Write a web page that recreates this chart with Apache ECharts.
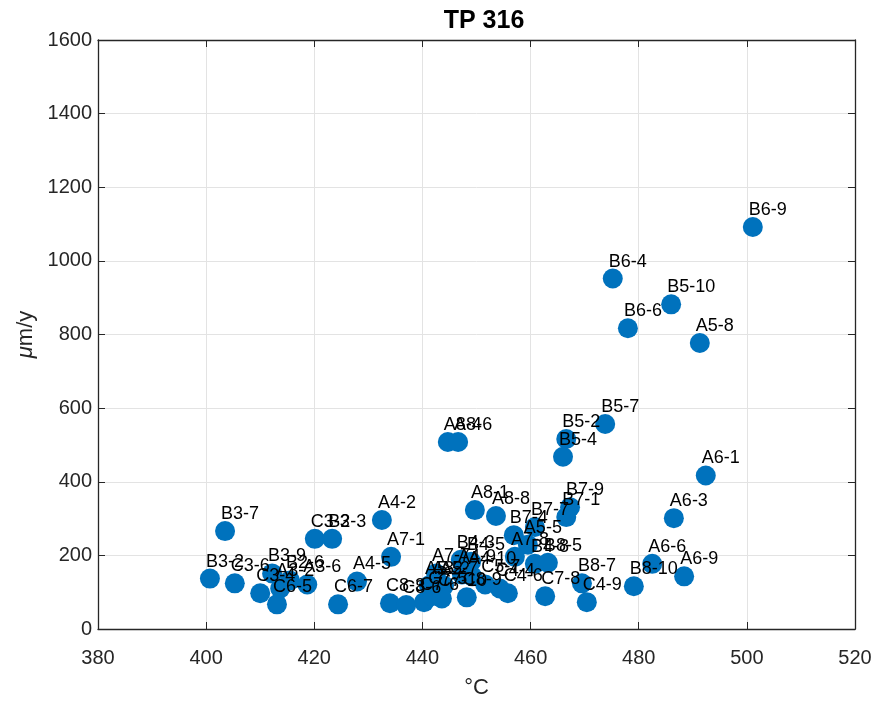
<!DOCTYPE html>
<html>
    <head>
        <meta charset="utf-8">
        <script src="https://cdn.jsdelivr.net/npm/echarts@6/dist/echarts.min.js"></script>
        <style>
            body, #main {
                margin: 0;
                width: 877px;
                height: 704px;
                background: #fff;
            }
        </style>
    </head>
    <body>
        <div id="main"></div>
        <script>
            // sample ids, temperature (°C) and rate (µm/y)
            const sampleNames = [
                'B3-2', 'C3-6', 'C3-4', 'B3-9', 'A3-2', 'B2-6', 'C6-5', 'A3-6',
                'B3-7', 'C3-3', 'B2-3', 'A4-2', 'A7-1', 'A4-5', 'C6-7',
                'C8-3', 'C8-6', 'C7-6', 'A5-2', 'A8-2', 'A7-7', 'A5-7', 'C7-5', 'C7-10',
                'C8-9', 'B4-3', 'B4-5', 'A4-9', 'A4-10', 'C5-7', 'C4-4', 'C4-6',
                'C7-8', 'B8-7', 'C4-9', 'A8-1', 'A8-8', 'B7-4', 'B7-7', 'A5-5',
                'A7-8', 'B4-8', 'B8-5', 'B7-9', 'B7-1', 'A8-4', 'A8-6', 'B5-2',
                'B5-4', 'B5-7', 'A6-1', 'A6-3', 'A6-6', 'A6-9', 'B8-10',
                'B6-9', 'B6-4', 'B5-10', 'B6-6', 'A5-8'
            ];
            const tempC = [
                400.7, 405.3, 410.0, 412.2, 413.7, 415.5, 413.1, 418.7,
                403.5, 420.1, 423.3, 432.5, 434.2, 427.9, 424.4,
                434.0, 437.0, 440.3, 441.2, 442.5, 442.5, 444.0, 441.8, 443.6,
                448.2, 447.1, 449.0, 447.3, 449.2, 451.6, 454.3, 455.8,
                462.7, 469.5, 470.4, 449.7, 453.6, 456.9, 460.8, 459.5,
                457.1, 460.8, 463.2, 467.3, 466.6, 444.7, 446.6, 466.6,
                466.0, 473.8, 492.4, 486.5, 482.5, 488.4, 479.1,
                501.1, 475.2, 486.0, 478.0, 491.3
            ];
            const rate = [
                137, 124, 97, 151, 110, 132, 67, 121,
                266, 245, 245, 296, 196, 129, 67,
                70, 65, 73, 118, 118, 151, 118, 89, 83,
                86, 188, 183, 148, 143, 121, 110, 97,
                89, 124, 73, 323, 307, 255, 277, 229,
                196, 177, 180, 331, 304, 508, 508, 516,
                468, 557, 417, 301, 177, 143, 116,
                1092, 952, 882, 817, 777
            ];

            const axisColor = '#262626';
            const font = 'Liberation Sans, Arial, sans-serif';

            const points = sampleNames.map((n, i) => ({ name: n, value: [tempC[i], rate[i]] }));

            const chart = echarts.init(document.getElementById('main'), null, { renderer: 'canvas' });

            const xBase = {
                min: 380, max: 520, interval: 20,
                axisLine: { onZero: false, lineStyle: { color: axisColor, width: 1.3 } },
                axisTick: { inside: true, length: 7, lineStyle: { color: axisColor } }
            };
            const yBase = {
                min: 0, max: 1600, interval: 200,
                axisLine: { show: true, onZero: false, lineStyle: { color: axisColor, width: 1.3 } },
                axisTick: { show: true, inside: true, length: 7, lineStyle: { color: axisColor } }
            };

            chart.setOption({
                animation: false,
                backgroundColor: '#fff',
                title: {
                    text: 'TP 316',
                    left: 479, top: 4, textAlign: 'center',
                    textStyle: { fontFamily: font, fontSize: 25, fontWeight: 'bold', color: '#000' }
                },
                grid: { left: 98, right: 22, top: 40, bottom: 66, containLabel: false },
                xAxis: [
                    Object.assign({}, xBase, {
                        type: 'value', position: 'bottom',
                        name: '°C', nameLocation: 'middle', nameGap: 48,
                        nameTextStyle: { fontFamily: font, fontSize: 22, color: axisColor },
                        axisLabel: { fontFamily: font, fontSize: 20, color: axisColor, margin: 19 },
                        splitLine: { show: true, lineStyle: { color: '#e3e3e3' } }
                    }),
                    Object.assign({}, xBase, {
                        type: 'value', position: 'top',
                        axisLabel: { show: false }, splitLine: { show: false }
                    })
                ],
                yAxis: [
                    Object.assign({}, yBase, {
                        type: 'value', position: 'left',
                        name: '{i|μ}m/y', nameLocation: 'middle', nameGap: 45,
                        nameTextStyle: {
                            fontFamily: font, fontSize: 22, color: axisColor,
                            rich: { i: { fontFamily: font, fontSize: 22, fontStyle: 'italic', color: axisColor } }
                        },
                        axisLabel: {
                            fontFamily: font, fontSize: 20, color: axisColor, margin: 6,
                            formatter: v => String(v)
                        },
                        splitLine: { show: true, lineStyle: { color: '#e3e3e3' } }
                    }),
                    Object.assign({}, yBase, {
                        type: 'value', position: 'right',
                        axisLabel: { show: false }, splitLine: { show: false }
                    })
                ],
                series: [{
                    type: 'scatter',
                    data: points,
                    symbolSize: 20,
                    itemStyle: { color: '#0072BD', opacity: 1 },
                    label: {
                        show: true,
                        formatter: '{b}',
                        position: [6, -7],
                        align: 'left',
                        verticalAlign: 'middle',
                        fontFamily: font,
                        fontSize: 18,
                        color: '#000'
                    },
                    labelLayout: { hideOverlap: false }
                }]
            });
        </script>
    </body>
</html>
